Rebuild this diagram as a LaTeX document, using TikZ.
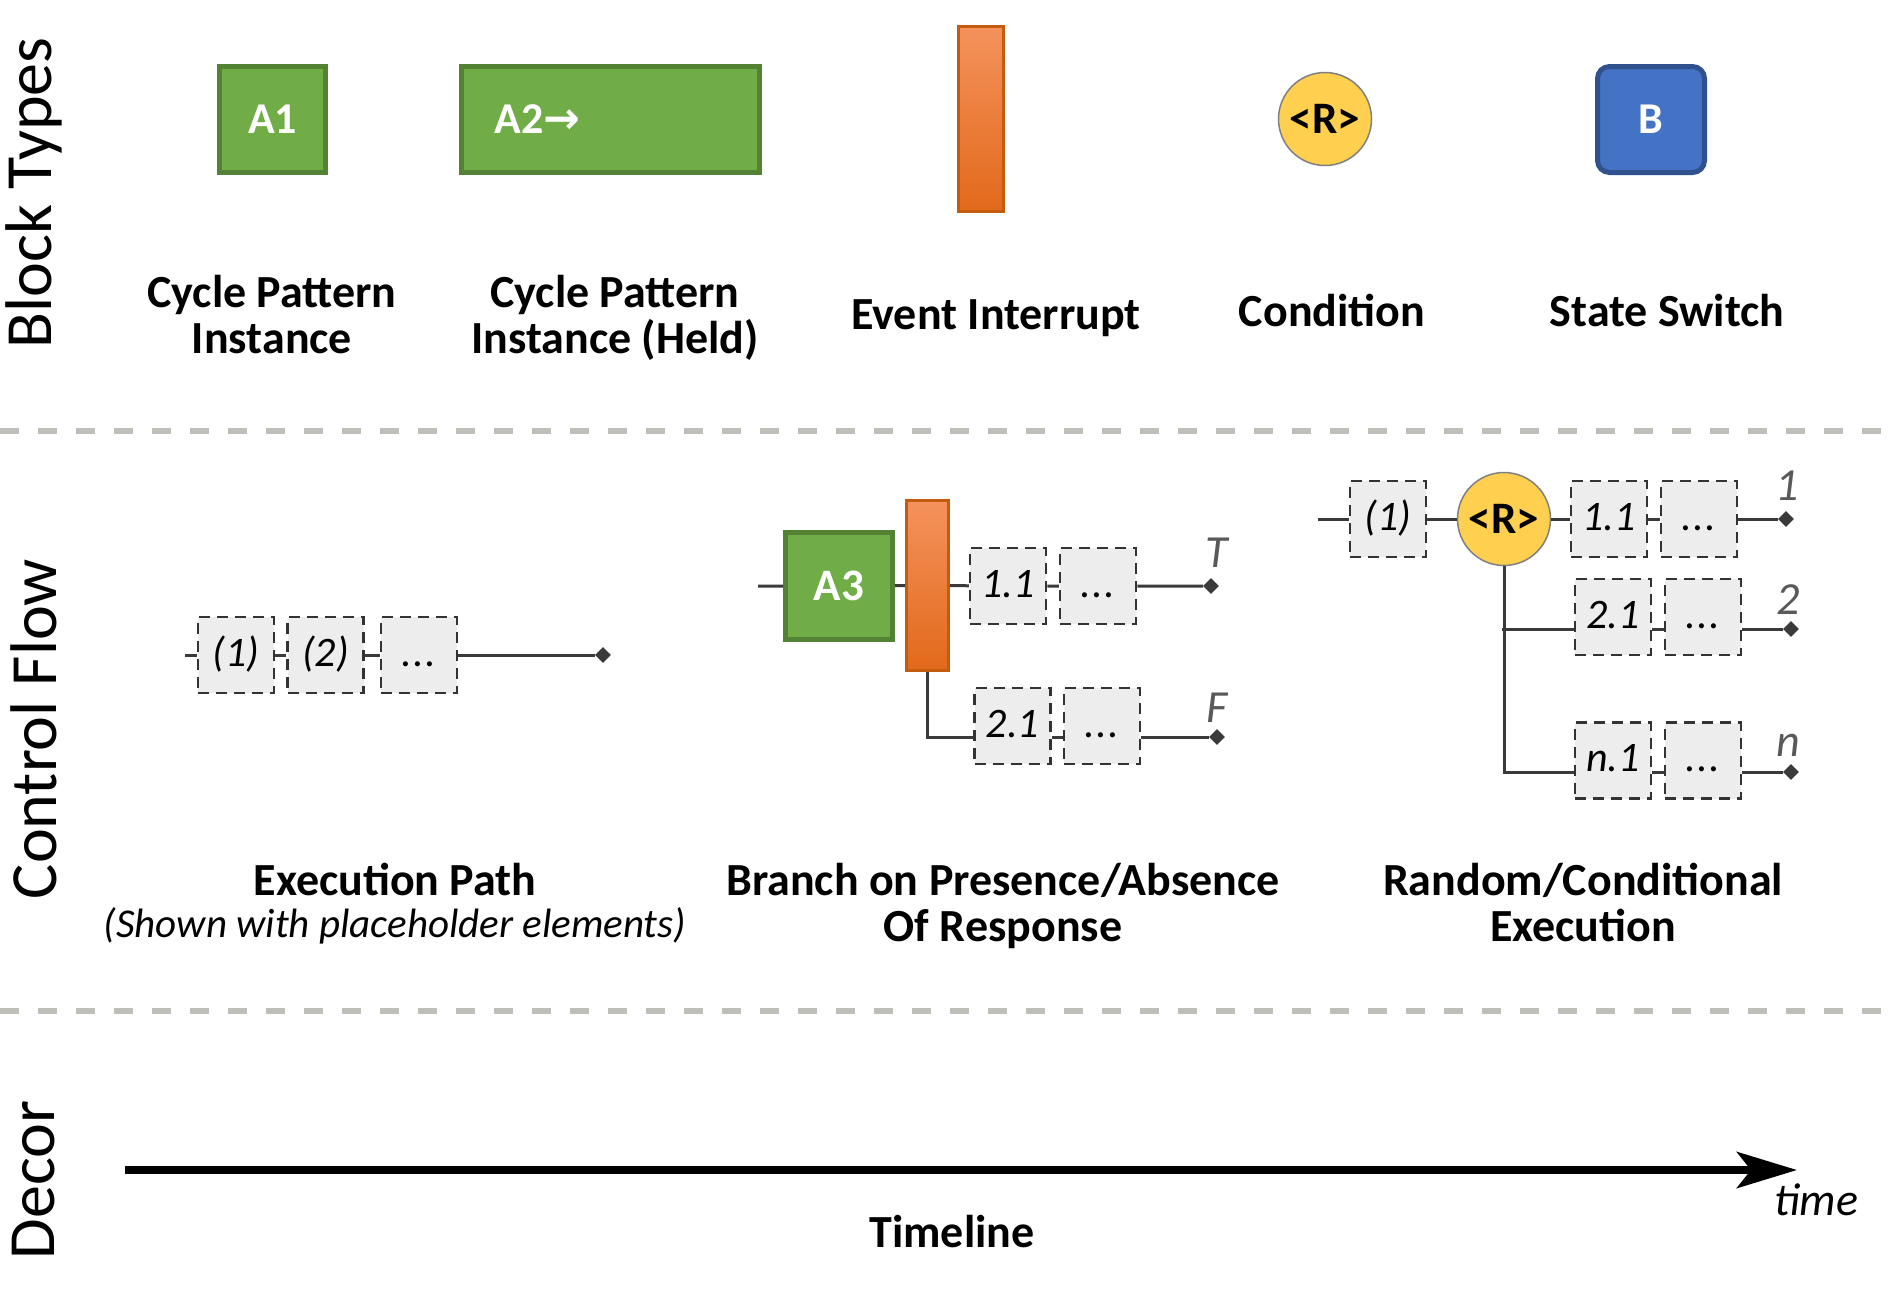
\documentclass[tikz,border=0pt]{standalone}
\usepackage{fontspec}
\setmainfont{Carlito}
\newfontfamily\dejavu{DejaVu Sans}
\usetikzlibrary{shapes.geometric,arrows.meta}
\definecolor{grn}{HTML}{70AD47}
\definecolor{grnd}{HTML}{548235}
\definecolor{orgt}{HTML}{F4925C}
\definecolor{orgb}{HTML}{E2691A}
\definecolor{orgd}{HTML}{C55A11}
\definecolor{yel}{HTML}{FFCF50}
\definecolor{blu}{HTML}{4472C4}
\definecolor{blud}{HTML}{2F528F}
\definecolor{phfill}{HTML}{EDEDED}
\definecolor{phline}{HTML}{333333}
\definecolor{connc}{HTML}{3A3A3A}
\definecolor{sepc}{HTML}{BFBFBA}
\definecolor{lblgray}{HTML}{595959}
\newcommand{\fsz}[2]{\fontsize{#1}{#2}\selectfont}
\newcommand{\dotsx}{.\kern1.5pt.\kern1.5pt.}
\begin{document}
\begin{tikzpicture}[x=1pt,y=-1pt,
 cyc/.style={draw=grnd, fill=grn, line width=5pt, text=white, font=\fsz{44}{46}\bfseries, inner sep=0pt},
 intr/.style={draw=orgd, top color=orgt, bottom color=orgb, line width=3pt, inner sep=0pt},
 cond/.style={circle, draw=gray, fill=yel, line width=1.5pt, minimum size=93pt, inner sep=0pt, font=\fsz{45}{46}\bfseries},
 sw/.style={draw=blud, fill=blu, rounded corners=12pt, line width=5pt, minimum width=107pt, minimum height=106pt, text=white, font=\fsz{44}{46}\bfseries},
 ph/.style={draw=phline, fill=phfill, dash pattern=on 11pt off 7pt, line width=2.5pt, minimum size=76pt, inner sep=0pt, text height=30pt, text depth=8pt, font=\fsz{42}{44}\itshape},
 conn/.style={draw=connc, line width=3pt},
 term/.style={diamond, fill=connc, inner sep=0pt, minimum size=16pt},
 title/.style={align=center, font=\fsz{46}{46}\bfseries},
 side/.style={rotate=90, font=\fsz{66}{70}},
 brl/.style={text=lblgray, font=\fsz{46}{46}\itshape},
 sepline/.style={draw=sepc, line width=6pt, dash pattern=on 19pt off 19pt},
]
\useasboundingbox (0,0) rectangle (1890,1299);

% side labels
\node[side] (sBT) at (34,193) {Block Types};
\node[side] (sCF) at (34,729) {Control Flow};
\node[side] (sDE) at (34,1180) {Decor};

% separators
\draw[sepline] (0,431) -- (1890,431);
\draw[sepline] (0,1011) -- (1890,1011);

% ---------- Block types ----------
\node[cyc, minimum width=106pt, minimum height=106pt] (a1) at (272.5,119.5) {A1};
\node[cyc, minimum width=298pt, minimum height=106pt, text width=232pt, align=left] (a2) at (610.5,119.5) {A2{\dejavu\bfseries\fontsize{44}{46}\selectfont →}};
\node[intr, minimum width=45pt, minimum height=185pt] (ei) at (981,119) {};
\node[cond] (cnd) at (1325,119) {<R>};
\node[sw] (sw) at (1651,119.5) {B};

\node[title, anchor=base] (t1) at (272,353) {Cycle Pattern\\Instance};
\node[title, anchor=base] (t2) at (615,353) {Cycle Pattern\\Instance (Held)};
\node[title, anchor=base] (t3) at (996,329) {Event Interrupt};
\node[title, anchor=base] (t4) at (1332,326) {Condition};
\node[title, anchor=base] (t5) at (1667,326) {State Switch};

% ---------- Execution path ----------
\coordinate (e0) at (185,655);
\node[ph] (e1) at (236,655) {(1)};
\node[ph] (e2) at (325.5,655) {(2)};
\node[ph] (e3) at (419,655) {\dotsx};
\node[term] (e4) at (603,655) {};
\draw[conn] (e0) -- (e1) -- (e2) -- (e3) -- (e4);

% ---------- Branch on presence ----------
\coordinate (b0) at (758,586);
\node[cyc, minimum width=107pt, minimum height=107pt, font=\fsz{45}{46}\bfseries] (a3) at (839,586) {A3};
\node[intr, minimum width=42pt, minimum height=170pt] (ei2) at (927.5,585.5) {};
\node[ph] (bt1) at (1008,586) {1.1};
\node[ph] (bt2) at (1098,586) {\dotsx};
\node[term] (btT) at (1211,586) {};
\node[brl] (lT) at (1217,553) {T};
\node[ph] (bf1) at (1012.5,726) {2.1};
\node[ph] (bf2) at (1102,726) {\dotsx};
\node[term] (bfF) at (1217,737) {};
\node[brl] (lF) at (1217,708) {F};
\draw[conn] (b0) -- (a3) -- (ei2) -- (bt1) -- (bt2) -- (btT);
\draw[conn] (ei2.south) |- ([yshift=-11pt]bf1.west);
\draw[conn] ([yshift=-11pt]bf1.east) -- ([yshift=-11pt]bf2.west);
\draw[conn] ([yshift=-11pt]bf2.east) -- (bfF);

% ---------- Random / conditional ----------
\coordinate (r0) at (1318,519);
\node[ph] (r1) at (1388,519) {(1)};
\node[cond] (rc) at (1504,519) {<R>};
\node[ph] (r11) at (1609,519) {1.1};
\node[ph] (r12) at (1699,519) {\dotsx};
\node[term] (rT1) at (1786,519) {};
\node[brl] (l1) at (1787,486) {1};
\draw[conn] (r0) -- (r1) -- (rc) -- (r11) -- (r12) -- (rT1);

\node[ph] (r21) at (1613,617) {2.1};
\node[ph] (r22) at (1703,617) {\dotsx};
\node[term] (rT2) at (1791,629) {};
\node[brl] (l2) at (1788,600) {2};

\node[ph] (rn1) at (1613,760.5) {n.1};
\node[ph] (rn2) at (1703,760.5) {\dotsx};
\node[term] (rTn) at (1791,772) {};
\node[brl] (ln) at (1788,745) {n};

\coordinate (rv2) at (1502,629);
\draw[conn] (rc.south) |- ([yshift=-11.5pt]rn1.west);
\draw[conn] (rv2) -- ([yshift=-12pt]r21.west);
\draw[conn] ([yshift=-12pt]r21.east) -- ([yshift=-12pt]r22.west);
\draw[conn] ([yshift=-12pt]r22.east) -- (rT2);
\draw[conn] ([yshift=-11.5pt]rn1.east) -- ([yshift=-11.5pt]rn2.west);
\draw[conn] ([yshift=-11.5pt]rn2.east) -- (rTn);

\node[title, anchor=base] (c1) at (395,895) {Execution Path};
\node[anchor=base, font=\fsz{41}{44}\itshape] (c1s) at (395,937) {(Shown with placeholder elements)};
\node[title, anchor=base] (c2) at (1003,941) {Branch on Presence/Absence\\Of Response};
\node[title, anchor=base] (c3) at (1583,941) {Random/Conditional\\Execution};

% ---------- Decor ----------
\coordinate (tl0) at (125,1170);
\coordinate (tl1) at (1797,1170);
\draw[line width=8pt, -{Stealth[length=60pt, width=36pt, inset=14pt]}] (tl0) -- (tl1);
\node[anchor=base, font=\fsz{46}{46}\itshape] (tm) at (1816,1215) {time};
\node[title, anchor=base] (tln) at (952,1247) {Timeline};
\end{tikzpicture}
\end{document}
